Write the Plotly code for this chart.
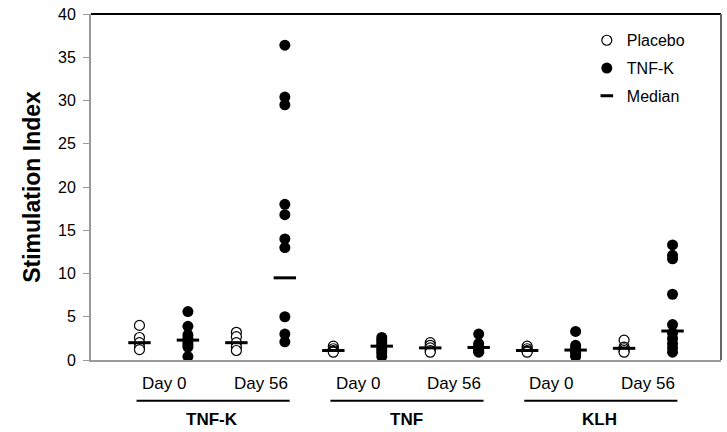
import plotly.graph_objects as go

# ---- data ----
groups = ["TNF-K", "TNF", "KLH"]
days = ["Day 0", "Day 56"]
y_ticks = [0, 5, 10, 15, 20, 25, 30, 35, 40]

# Placebo values, one list per (group, day)
placebo = {
    ("TNF-K", "Day 0"): [4.0, 2.6, 2.0, 1.5, 1.2],
    ("TNF-K", "Day 56"): [3.2, 2.7, 2.0, 1.5, 1.1],
    ("TNF", "Day 0"): [1.6, 1.3, 1.1, 1.0, 0.9],
    ("TNF", "Day 56"): [2.0, 1.7, 1.4, 1.1, 0.9],
    ("KLH", "Day 0"): [1.6, 1.3, 1.1, 1.0, 0.9],
    ("KLH", "Day 56"): [2.3, 1.5, 1.3, 1.1, 0.9],
}
# TNF-K vaccine values
tnfk = {
    ("TNF-K", "Day 0"): [5.6, 3.9, 2.9, 2.5, 2.1, 1.8, 1.5, 0.4],
    ("TNF-K", "Day 56"): [36.4, 30.4, 29.5, 18.0, 16.8, 14.0, 13.0, 5.0, 3.0, 2.1],
    ("TNF", "Day 0"): [2.6, 2.3, 2.0, 1.7, 1.4, 1.1, 0.8, 0.4],
    ("TNF", "Day 56"): [3.0, 1.9, 1.6, 1.4, 1.2, 1.0, 0.9],
    ("KLH", "Day 0"): [3.3, 1.7, 1.4, 1.2, 1.1, 0.9, 0.6, 0.4],
    ("KLH", "Day 56"): [13.3, 12.1, 11.7, 7.6, 4.1, 3.1, 2.5, 1.9, 1.4, 0.9],
}
# medians: (placebo, TNF-K) per (group, day)
medians = {
    ("TNF-K", "Day 0"): [2.0, 2.3],
    ("TNF-K", "Day 56"): [2.0, 9.5],
    ("TNF", "Day 0"): [1.1, 1.6],
    ("TNF", "Day 56"): [1.4, 1.45],
    ("KLH", "Day 0"): [1.1, 1.15],
    ("KLH", "Day 56"): [1.35, 3.35],
}

FONT = "Arial, Liberation Sans, sans-serif"

def col_x(gi, di, arm):
    return 1 + 4 * gi + 2 * di + arm

px, py, tx, ty, mx, my = [], [], [], [], [], []
for gi, g in enumerate(groups):
    for di, d in enumerate(days):
        for v in placebo[(g, d)]:
            px.append(col_x(gi, di, 0)); py.append(v)
        for v in tnfk[(g, d)]:
            tx.append(col_x(gi, di, 1)); ty.append(v)
        for arm, v in enumerate(medians[(g, d)]):
            mx.append(col_x(gi, di, arm)); my.append(v)

fig = go.Figure()
fig.add_trace(go.Scatter(
    x=px, y=py, mode="markers", name="Placebo", legendgroup="a",
    marker=dict(symbol="circle", size=10, color="white",
                line=dict(color="black", width=1.2)),
))
fig.add_trace(go.Scatter(
    x=tx, y=ty, mode="markers", name="TNF-K", legendgroup="b",
    marker=dict(symbol="circle", size=11, color="black",
                line=dict(color="black", width=0)),
))
fig.add_trace(go.Scatter(
    x=mx, y=my, mode="markers", name="Median", legendgroup="c",
    showlegend=False,
    marker=dict(symbol="line-ew", size=16, color="black",
                line=dict(color="black", width=3)),
))
# legend entry for the median (short dash like the reference)
fig.add_trace(go.Scatter(
    x=[None], y=[None], mode="markers", name="Median", legendgroup="c",
    marker=dict(symbol="line-ew", size=9, color="black",
                line=dict(color="black", width=3)),
))

annotations = []
shapes = []
for gi, g in enumerate(groups):
    for di, d in enumerate(days):
        annotations.append(dict(
            x=col_x(gi, di, 0) + 0.5, xref="x", y=-0.069, yref="paper",
            text=d, showarrow=False, yanchor="middle",
            font=dict(family=FONT, size=17, color="black")))
    annotations.append(dict(
        x=col_x(gi, 0, 0) + 1.5, xref="x", y=-0.172, yref="paper",
        text="<b>%s</b>" % g, showarrow=False, yanchor="middle",
        font=dict(family=FONT, size=17, color="black")))
    shapes.append(dict(
        type="line", xref="x", yref="paper",
        x0=col_x(gi, 0, 0) - 0.06, x1=col_x(gi, 1, 1) + 0.1,
        y0=-0.1175, y1=-0.1175, line=dict(color="black", width=2)))

# box: top black, right dark gray
shapes.append(dict(type="line", xref="paper", yref="paper", x0=0, x1=1,
                   y0=1, y1=1, line=dict(color="black", width=2)))
shapes.append(dict(type="line", xref="paper", yref="paper", x0=1, x1=1,
                   y0=0, y1=1, line=dict(color="#666666", width=2)))

fig.update_layout(
    width=727, height=432,
    margin=dict(l=91, r=6, t=11, b=72),
    paper_bgcolor="white", plot_bgcolor="white",
    font=dict(family=FONT, color="black"),
    showlegend=True,
    legend=dict(x=0.787, y=0.973, xanchor="left", yanchor="top",
                font=dict(family=FONT, size=16, color="black"),
                tracegroupgap=4, bgcolor="rgba(0,0,0,0)"),
    xaxis=dict(range=[0, 13], showticklabels=False, ticks="",
               showgrid=False, zeroline=False, showline=True,
               linecolor="#999999", linewidth=2),
    yaxis=dict(range=[0, 40], tickvals=y_ticks, ticks="outside", ticklen=6,
               tickcolor="#999999", showgrid=False, zeroline=False,
               showline=True, linecolor="#999999", linewidth=2,
               ticklabelstandoff=4,
               tickfont=dict(family=FONT, size=16, color="black"),
               title=dict(text="<b>Stimulation Index</b>", standoff=11,
                          font=dict(family=FONT, size=23, color="black"))),
    annotations=annotations,
    shapes=shapes,
)

fig.write_html("out.html", config={"displayModeBar": False},
               post_script="document.body.style.margin='0';")
